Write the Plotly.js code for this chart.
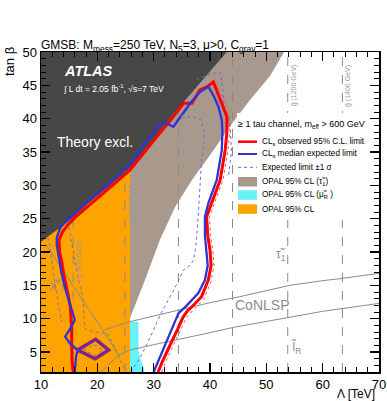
<!DOCTYPE html>
<html>
<head>
<meta charset="utf-8">
<script src="https://cdn.plot.ly/plotly-3.0.1.min.js"></script>
<style>html,body{margin:0;padding:0;background:#fff;}#plot{width:387px;height:401px;}</style>
</head>
<body>
<div id="plot"></div>
<script>
// ---------------- data ----------------
const theoryX = [9, 10, 15.2, 18.7, 22.3, 25.8, 29.9, 34, 38.5, 43, 44, 9];
const theoryY = [20.9, 21.55, 24.8, 27.5, 30.0, 32.6, 36.9, 41.2, 45.6, 50, 51, 51];

const stauX = [25.8, 25.8, 53.85, 50.65, 47.1, 44.1, 40.4, 36.8, 33.8, 31.1, 28.46, 25.8];
const stauY = [10.1, 51, 51, 46.4, 42.8, 39.5, 35.0, 30.8, 26.75, 21.8, 15.8, 10.1];

const opalX = [9, 25.8, 25.8, 9];
const opalY = [1, 1, 51, 51];

const smuX = [25.8, 27.3, 27.3, 27.6, 28.3, 28.4, 25.8];
const smuY = [9.55, 9.55, 5.3, 4.0, 2.5, 1, 1];

const gluinoX = [15.7, 24.9, 34.4, 44.0, 53.8, 63.5];
const gluinoTop = [26.0, 32.1, 41.6, 50, 50, 50];
const gluinoLabels = ['g\u0303 (400 GeV)', 'g\u0303 (600 GeV)', 'g\u0303 (800 GeV)', 'g\u0303 (1000 GeV)', 'g\u0303 (1200 GeV)', 'g\u0303 (1400 GeV)'];
const gluinoLabelY = [18.8, 27.3, 37.8, 44.9, 44.9, 44.9];

const chiX = [10.9, 17.4, 23.8];
const chiY = [21.1, 12.8, 4.6];
const conUpX = [21.2, 25.8, 30, 35, 40, 45.3, 50, 54.2, 60, 63.1, 70.5];
const conUpY = [8.3, 9.55, 10.4, 11.4, 12.4, 13.3, 14.2, 15.0, 15.7, 16.0, 16.85];
const conLoX = [23.8, 25.8, 30, 34.7, 40, 44.2, 50, 54.2, 60, 65, 70.5];
const conLoY = [4.6, 5.3, 6.1, 7.0, 7.9, 8.7, 9.6, 10.3, 11.1, 11.7, 12.35];
const arcX = [20.6, 22.2, 23.8];
const arcY = [2, 3.2, 4.6];

const obsX = [30.8,31.5,32.5,33.4,34.3,35.2,36.0,36.8,38.5,39.7,40.2,40.0,39.6,39.4,40.3,41.8,42.7,43.0,43.0,42.3,41.5,40.6,39.5,38.2,36.8,35.3,33.5,31.7,29.9,27.8,25.8,23.5,21.0,18.5,16.2,14.8,13.8,13.2,13.3,13.7,14.0,14.7,15.2,15.4,15.4,15.4,15.5,15.7];
const obsY = [2,3.5,5.3,6.8,8.5,10.2,11.2,11.8,13.3,15.8,18,20.3,22.5,25.3,27.3,30.8,35.3,38,40.3,41.8,43.5,45.5,44.8,44.3,42.3,42.3,40.3,38.5,36.6,34.4,32.3,30.6,28.8,27.1,25.3,24.1,23.0,21.8,20,18.5,16.8,14,11.8,9.3,7,5.3,4,2];

const expX = [30.0,31.2,32.3,33.4,34.4,35.9,37.9,39.1,39.6,39.3,39.1,39.1,39.7,41.2,42.1,42.2,42.1,41.5,40.6,39.7,38.2,36.5,35.0,33.5,32.3,31.1,29.4,27.6,25.8,23.5,21.0,18.5,16.2,14.6,13.4,12.8,12.8,13.2,13.6,14.2,14.8,15.2,16.0,15.4,14.3,15.2,16.5,16.2,16.0];
const expY = [2,4.5,6.8,8.8,10.8,12.0,13.8,15.8,18,20.3,22.5,25.3,27.3,30.8,35.3,38,39.8,41.8,43.5,44.8,44.0,42.3,40.6,38.8,39.3,39.3,37.3,35.2,33.3,31.3,29.5,27.8,26.0,24.8,23.6,22.2,21,19,17,14.8,13,11.8,9.8,8.8,7.3,6.2,5.3,4.2,2];

const islandX = [16.5, 19.7, 22.0, 19.6, 16.5];
const islandY = [5.3, 6.9, 5.3, 4.0, 5.3];

const sigInX = [25.9,27.5,29.0,30.2,31.3,32.6,34.0,35.3,36.3,37.1,37.5,37.9,38.2,38.5,38.8,39.0,38.5,36.8,35.0,34.1,33.3];
const sigInY = [2,4,6.5,8.8,10.8,12.8,15,17.3,17.9,18.8,21,25.3,30,33.8,35.3,37.5,39.8,40.3,40.1,39.8,39.5];
const sigOutX = [37.6,38.8,40.5,41.8,42.2,42.5,43.6,43.8,43.3];
const sigOutY = [45.9,46.3,46.8,47.0,45.0,41.8,38.8,35.0,31.5];
const sigLeftAX = [11.2,11.6,12.2,12.7,13.1,13.5,13.7];
const sigLeftAY = [22.2,20.8,16.8,14,11.8,10.2,9.5];
const sigLeftBX = [14.8,15.5,16.0,16.6,17.2,17.5,17.8,19.5,21.7,22.8,23.7,24.6,25.1];
const sigLeftBY = [24.6,21.5,18.8,16,14,12.5,8.5,8.0,7.8,6.2,4.5,3,2];
const sigIslX = [17.6, 19.4, 21.0, 19.6, 17.6];
const sigIslY = [5.3, 6.1, 5.3, 4.5, 5.3];

const thX = [31.4,32.1,33.1,34.0,34.9,35.8,37.0,38.9,40.2,40.7,40.5,40.1,39.9,40.8,42.3,43.2,43.5,43.5,42.8,41.8,41.0];
const thY = [2,3.5,5.3,6.8,8.5,10.2,11.3,12.9,15.6,18,20.3,22.5,25.3,27.3,30.8,35.3,38,40.3,42,44,46];

const xTickVals = [10, 20, 30, 40, 50, 60, 70];
const yTickVals = [5, 10, 15, 20, 25, 30, 35, 40, 45, 50];

// ---------------- styles ----------------
const C = {
  dark: '#474747', stau: '#a9998d', smu: '#66f2f8', opal: '#ffa300',
  red: '#ff0000', blue: '#3232d2', blueDot: '#6b6be0', gray: '#8a8a8a', grayTxt: '#8c8c8c'
};
const FONT = 'Liberation Sans, Arial, Helvetica, sans-serif';

function poly(x, y, color) {
  return {x: x, y: y, type: 'scatter', mode: 'lines', fill: 'toself', fillcolor: color,
          line: {width: 0, color: color}, hoverinfo: 'skip', showlegend: false};
}
function ln(x, y, color, width, dash) {
  return {x: x, y: y, type: 'scatter', mode: 'lines',
          line: {color: color, width: width, dash: dash || 'solid'}, hoverinfo: 'skip', showlegend: false};
}

const traces = [
  poly(stauX, stauY, C.stau),
  poly(opalX, opalY, C.opal),
  poly(smuX, smuY, C.smu),
  poly(theoryX, theoryY, C.dark),
  ln(chiX, chiY, C.gray, 1),
  ln(conUpX, conUpY, C.gray, 1),
  ln(conLoX, conLoY, C.gray, 1),
  ln(arcX, arcY, C.gray, 1)
];
gluinoX.forEach(function (gx, i) {
  traces.push(ln([gx, gx], [2, gluinoTop[i]], '#8a8a8a', 1, 'dash'));
});
traces.push(ln(sigLeftAX, sigLeftAY, '#7b6fa8', 1, 'dot'));
traces.push(ln(sigLeftBX, sigLeftBY, '#7b6fa8', 1, 'dot'));
traces.push(ln(sigIslX, sigIslY, '#7b6fa8', 1, 'dot'));
traces.push(ln(sigInX, sigInY, C.blueDot, 1, 'dot'));
traces.push(ln(sigOutX, sigOutY, C.blueDot, 1, 'dot'));
traces.push(ln(thX, thY, '#ff5050', 1, 'dot'));
traces.push(ln(obsX, obsY, C.red, 3));
traces.push(ln(islandX, islandY, C.red, 3.5));
traces.push(ln(expX, expY, C.blue, 2.3));
traces.push(ln(islandX, islandY, '#4a36c0', 2.3));

// pixel -> paper helpers (plot area 41..379 x 52..372)
const L = 41, R = 379, T = 52, B = 372;
const px = p => (p - L) / (R - L);
const py = p => (B - p) / (B - T);

const shapes = [
  {type: 'rect', xref: 'paper', yref: 'paper', x0: px(237), x1: px(368), y0: py(113), y1: py(220),
   fillcolor: '#ffffff', line: {width: 0}, layer: 'above'},
  {type: 'line', xref: 'paper', yref: 'paper', x0: px(238), x1: px(257), y0: py(141.7), y1: py(141.7),
   line: {color: C.red, width: 2.5}, layer: 'above'},
  {type: 'line', xref: 'paper', yref: 'paper', x0: px(238), x1: px(257), y0: py(154), y1: py(154),
   line: {color: C.blue, width: 2}, layer: 'above'},
  {type: 'line', xref: 'paper', yref: 'paper', x0: px(238), x1: px(257), y0: py(167.3), y1: py(167.3),
   line: {color: C.blueDot, width: 1, dash: 'dot'}, layer: 'above'},
  {type: 'rect', xref: 'paper', yref: 'paper', x0: px(238), x1: px(257), y0: py(186.5), y1: py(177),
   fillcolor: C.stau, line: {width: 0}, layer: 'above'},
  {type: 'rect', xref: 'paper', yref: 'paper', x0: px(238), x1: px(257), y0: py(199.8), y1: py(190.3),
   fillcolor: C.smu, line: {width: 0}, layer: 'above'},
  {type: 'rect', xref: 'paper', yref: 'paper', x0: px(238), x1: px(257), y0: py(213.8), y1: py(204.3),
   fillcolor: C.opal, line: {width: 0}, layer: 'above'}
];

function legText(t, y, size) {
  return {xref: 'paper', yref: 'paper', x: px(260), y: py(y), xanchor: 'left', yanchor: 'middle',
          text: t, showarrow: false, font: {family: FONT, size: size || 8.2, color: '#000'}};
}

const annotations = [
  {xref: 'paper', yref: 'paper', x: px(236), y: py(124.5), xanchor: 'left', yanchor: 'middle', showarrow: false,
   text: '\u2265 1 tau channel, m<sub>eff</sub> > 600 GeV', font: {family: FONT, size: 9, color: '#000'}},
  legText('CL<sub>s</sub> observed 95% C.L. limit', 141.7),
  legText('CL<sub>s</sub> median expected limit', 154),
  legText('Expected limit \u00b11 \u03c3', 167.3),
  legText('OPAL 95% CL (\u03c4\u0303<sub>1</sub>)', 181.7),
  legText('OPAL 95% CL (\u03bc\u0303<sub>R</sub> )', 195),
  legText('OPAL 95% CL', 209),
  {xref: 'paper', yref: 'paper', x: px(62), y: py(71), xanchor: 'left', yanchor: 'middle', showarrow: false,
   text: '<b><i>ATLAS</i></b>', font: {family: FONT, size: 14.5, color: '#ffffff'}},
  {xref: 'paper', yref: 'paper', x: px(61), y: py(88), xanchor: 'left', yanchor: 'middle', showarrow: false,
   text: '\u222b L dt = 2.05 fb<sup>-1</sup>, \u221as=7 TeV', font: {family: FONT, size: 8.5, color: '#ffffff'}},
  {xref: 'paper', yref: 'paper', x: px(55), y: py(142), xanchor: 'left', yanchor: 'middle', showarrow: false,
   text: 'Theory excl.', font: {family: FONT, size: 14, color: '#ffffff'}},
  {xref: 'x', yref: 'y', x: 49.3, y: 12.1, xanchor: 'center', yanchor: 'middle', showarrow: false,
   text: 'CoNLSP', font: {family: FONT, size: 14, color: C.grayTxt}},
  {xref: 'x', yref: 'y', x: 52.6, y: 19.6, xanchor: 'center', yanchor: 'middle', showarrow: false,
   text: '\u03c4\u0303<sub>1</sub>', font: {family: FONT, size: 12, color: C.grayTxt}},
  {xref: 'x', yref: 'y', x: 55.2, y: 5.7, xanchor: 'center', yanchor: 'middle', showarrow: false,
   text: 'l\u0303<sub>R</sub>', font: {family: FONT, size: 12, color: C.grayTxt}},
  {xref: 'x', yref: 'y', x: 12.9, y: 15.2, xanchor: 'center', yanchor: 'middle', showarrow: false,
   text: '\u03c7\u0303<sup>0</sup><sub>1</sub>', font: {family: FONT, size: 11, color: C.grayTxt}},
  {xref: 'paper', yref: 'paper', x: px(377), y: py(393.5), xanchor: 'right', yanchor: 'middle', showarrow: false,
   text: '\u039b [TeV]', font: {family: FONT, size: 12, color: '#000'}},
  {xref: 'paper', yref: 'paper', x: px(9), y: py(62), xanchor: 'center', yanchor: 'middle', showarrow: false,
   textangle: -90, text: 'tan \u03b2', font: {family: FONT, size: 13, color: '#000'}}
];
gluinoX.forEach(function (gx, i) {
  annotations.push({xref: 'x', yref: 'y', x: gx, y: gluinoLabelY[i], xshift: 6, xanchor: 'center', yanchor: 'middle',
    showarrow: false, textangle: -90, text: gluinoLabels[i], font: {family: FONT, size: 7, color: '#9a9a9a'}});
});

const axisCommon = {
  showgrid: false, zeroline: false, showline: true, linecolor: '#000', linewidth: 1.5, mirror: 'ticks',
  ticks: 'inside', ticklen: 9, tickwidth: 1.2, tickcolor: '#000',
  tickfont: {family: FONT, size: 13, color: '#000'}
};

const layout = {
  width: 387, height: 401,
  margin: {l: L, r: 387 - R, t: T, b: 401 - B, pad: 0},
  paper_bgcolor: '#ffffff', plot_bgcolor: '#ffffff',
  showlegend: false,
  title: {text: 'GMSB: M<sub>mess</sub>=250 TeV, N<sub>5</sub>=3, \u03bc>0, C<sub>grav</sub>=1',
          x: L / 387, xanchor: 'left', y: 1 - 45 / 401, yanchor: 'middle',
          font: {family: FONT, size: 12, color: '#000'}},
  xaxis: Object.assign({}, axisCommon, {range: [10, 70], tickvals: xTickVals,
          minor: {ticks: 'inside', ticklen: 5, tickwidth: 1, tickcolor: '#000', dtick: 2, showgrid: false}}),
  yaxis: Object.assign({}, axisCommon, {range: [2, 50], tickvals: yTickVals,
          minor: {ticks: 'inside', ticklen: 5, tickwidth: 1, tickcolor: '#000', dtick: 1, showgrid: false}}),
  shapes: shapes,
  annotations: annotations
};

Plotly.newPlot('plot', traces, layout, {staticPlot: true, displayModeBar: false});
</script>
</body>
</html>
